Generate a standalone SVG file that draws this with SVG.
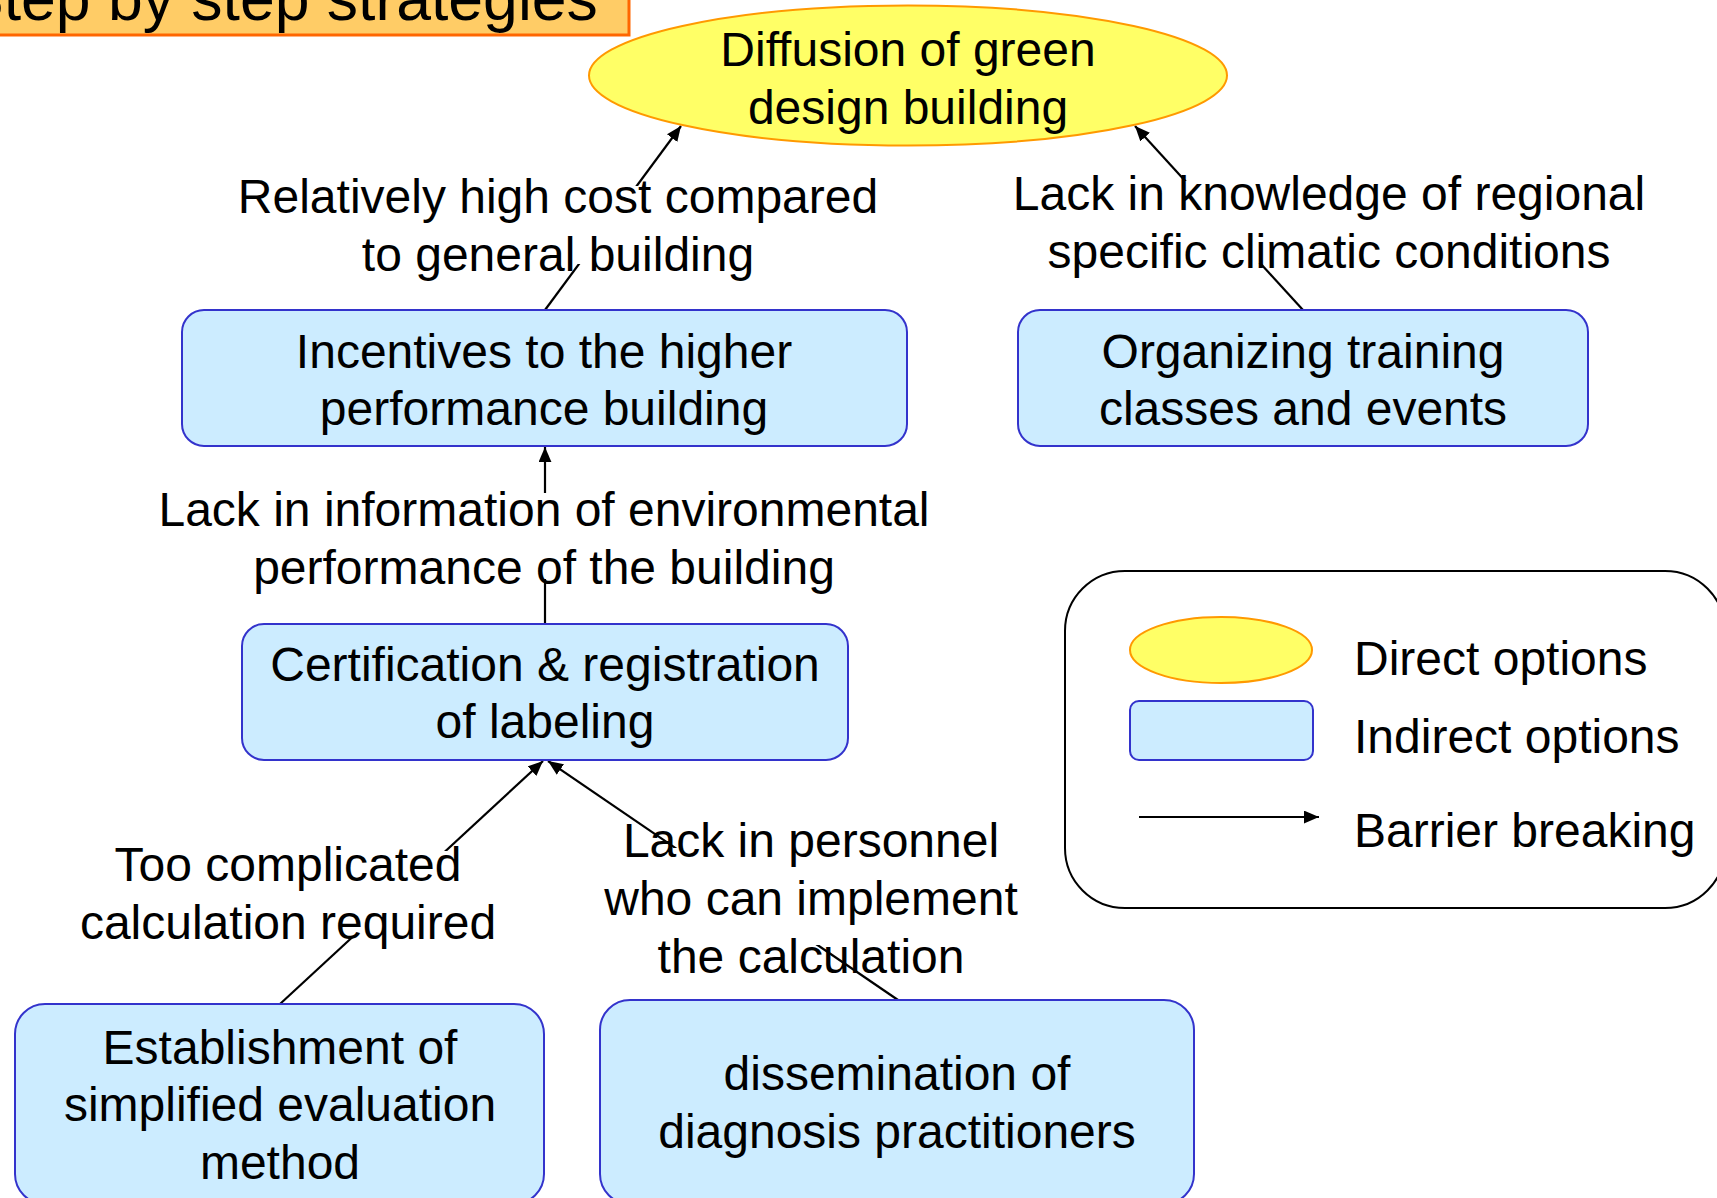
<svg xmlns="http://www.w3.org/2000/svg" width="1717" height="1198" viewBox="0 0 1717 1198">
<defs>
<style>
.t{font-family:"Liberation Sans",Arial,sans-serif;font-size:48px;fill:#000;text-anchor:middle}
.lt{font-family:"Liberation Sans",Arial,sans-serif;font-size:48px;fill:#000}
.box{fill:#CCECFF;stroke:#3333CC;stroke-width:2}
.ell{fill:#FFFF66;stroke:#FF9900;stroke-width:2}
.con{stroke:#000;stroke-width:2.2;fill:none;marker-end:url(#ah)}
.bg{fill:#fff;stroke:none}
</style>
<marker id="ah" viewBox="0 0 14 12" refX="14" refY="6" markerWidth="15" markerHeight="13" markerUnits="userSpaceOnUse" orient="auto">
<path d="M0,0 L14,6 L0,12 z" fill="#000"/>
</marker>
</defs>

<g id="title">
<rect x="-10" y="-40" width="639" height="75" fill="#FFCC66" stroke="#FF6600" stroke-width="3"/>
<text x="-38" y="20" font-family="Liberation Sans,Arial,sans-serif" font-size="62.5">Step by step strategies</text>
</g>

<g id="connectors">
<line class="con" x1="545" y1="310" x2="681" y2="126"/>
<line class="con" x1="1303" y1="310" x2="1135" y2="126"/>
<line class="con" x1="545" y1="624" x2="545" y2="447"/>
<line class="con" x1="280" y1="1004" x2="543" y2="761"/>
<line class="con" x1="898" y1="1000" x2="548" y2="761"/>
</g>

<g id="label-cost">
<rect class="bg" x="238" y="186" width="642" height="78"/>
<text class="t" x="558" y="213">Relatively high cost compared</text>
<text class="t" x="558" y="271">to general building</text>
</g>
<g id="label-knowledge">
<rect class="bg" x="1010" y="181" width="640" height="82"/>
<text class="t" x="1329" y="210">Lack in knowledge of regional</text>
<text class="t" x="1329" y="268">specific climatic conditions</text>
</g>
<g id="label-information">
<rect class="bg" x="155" y="493" width="778" height="86"/>
<text class="t" x="544" y="526">Lack in information of environmental</text>
<text class="t" x="544" y="584">performance of the building</text>
</g>
<g id="label-complicated">
<rect class="bg" x="78" y="851" width="420" height="87"/>
<text class="t" x="288" y="881">Too complicated</text>
<text class="t" x="288" y="939">calculation required</text>
</g>
<g id="label-personnel">
<rect class="bg" x="600" y="848" width="422" height="97"/>
<text class="t" x="811" y="857">Lack in personnel</text>
<text class="t" x="811" y="915">who can implement</text>
<text class="t" x="811" y="973">the calculation</text>
</g>

<g id="node-diffusion">
<ellipse class="ell" cx="908" cy="75.5" rx="319" ry="70"/>
<text class="t" x="908" y="66">Diffusion of green</text>
<text class="t" x="908" y="124">design building</text>
</g>

<g id="node-incentives">
<rect class="box" x="182" y="310" width="725" height="136" rx="22"/>
<text class="t" x="544" y="368">Incentives to the higher</text>
<text class="t" x="544" y="425">performance building</text>
</g>

<g id="node-training">
<rect class="box" x="1018" y="310" width="570" height="136" rx="22"/>
<text class="t" x="1303" y="368">Organizing training</text>
<text class="t" x="1303" y="425">classes and events</text>
</g>

<g id="node-certification">
<rect class="box" x="242" y="624" width="606" height="136" rx="22"/>
<text class="t" x="545" y="681">Certification &amp; registration</text>
<text class="t" x="545" y="738">of labeling</text>
</g>

<g id="node-establishment">
<rect class="box" x="15" y="1004" width="529" height="200" rx="30"/>
<text class="t" x="280" y="1064">Establishment of</text>
<text class="t" x="280" y="1121">simplified evaluation</text>
<text class="t" x="280" y="1179">method</text>
</g>

<g id="node-dissemination">
<rect class="box" x="600" y="1000" width="594" height="204" rx="30"/>
<text class="t" x="897" y="1090">dissemination of</text>
<text class="t" x="897" y="1148">diagnosis practitioners</text>
</g>

<g id="legend">
<rect x="1065" y="571" width="660" height="337" rx="60" fill="#fff" stroke="#000" stroke-width="2"/>
<ellipse class="ell" cx="1221" cy="650" rx="91" ry="33"/>
<rect class="box" x="1130" y="701" width="183" height="59" rx="9"/>
<line class="con" x1="1139" y1="817" x2="1319" y2="817"/>
<text class="lt" x="1354" y="675">Direct options</text>
<text class="lt" x="1354" y="753">Indirect options</text>
<text class="lt" x="1354" y="847">Barrier breaking</text>
</g>
</svg>
